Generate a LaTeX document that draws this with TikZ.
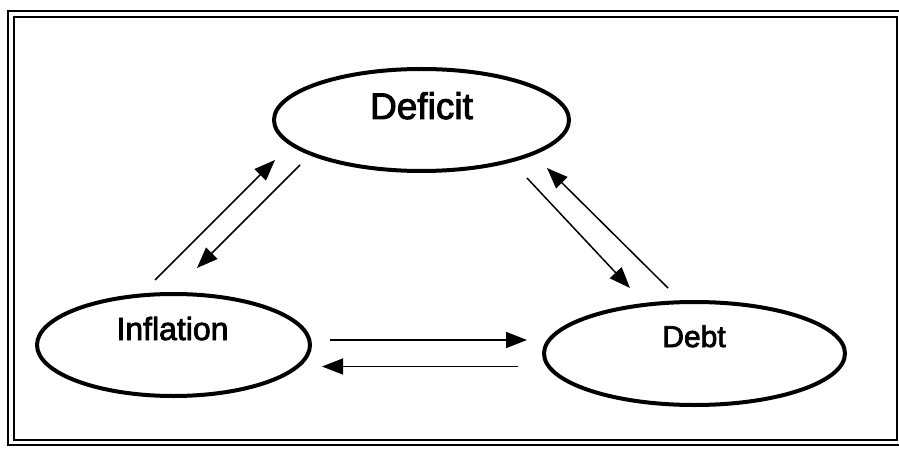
\documentclass[tikz,border=0pt]{standalone}
\usepackage{fontspec}
\setmainfont{Liberation Sans}
\newfontfamily\lblfont[FakeBold=2.5]{Liberation Sans}
\usetikzlibrary{shapes.geometric,arrows.meta}
\begin{document}
\begin{tikzpicture}[x=1pt,y=-1pt,
  oval/.style={ellipse,draw=black,line width=4pt,inner sep=0pt},
  lbl/.style={inner sep=0pt,anchor=base},
  conn/.style={line width=1.5pt,-{Triangle[length=21pt,width=16pt]}},
  framea/.style={line width=1.6pt},
  frameb/.style={line width=1.4pt}]
\useasboundingbox (0,0) rectangle (899,449);
\fill[white] (0,0) rectangle (899,449);
% frame
\draw[framea] (8,11) rectangle (910,445);
\draw[frameb] (14,17) rectangle (897,440);
% ellipses
\node[oval,minimum width=295pt,minimum height=102pt] (def) at (421.5,120) {};
\node[oval,minimum width=273pt,minimum height=102pt] (inf) at (173.5,345) {};
\node[oval,minimum width=301pt,minimum height=103pt] (debt) at (694.5,353.5) {};
% labels
\node[lbl,font=\lblfont\fontsize{37}{43}\selectfont] (deft) at (421.5,119) {Deficit};
\node[lbl,font=\lblfont\fontsize{32}{38}\selectfont] (inft) at (172.5,340) {Inflation};
\node[lbl,font=\lblfont\fontsize{30}{36}\selectfont] (debtt) at (694,347) {Debt};
% connector ends
\coordinate (a1s) at (155,280); \coordinate (a1e) at (275,160);
\coordinate (a2s) at (300,165); \coordinate (a2e) at (197,268);
\coordinate (a3s) at (668,288); \coordinate (a3e) at (547,168);
\coordinate (a4s) at (527,178); \coordinate (a4e) at (630,288);
\coordinate (a5s) at (330,340); \coordinate (a5e) at (527,340);
\coordinate (a6s) at (518,366.5); \coordinate (a6e) at (322,366.5);
\draw[conn] (a1s) -- (a1e);
\draw[conn] (a2s) -- (a2e);
\draw[conn] (a3s) -- (a3e);
\draw[conn] (a4s) -- (a4e);
\draw[conn] (a5s) -- (a5e);
\draw[conn] (a6s) -- (a6e);
\end{tikzpicture}
\end{document}
